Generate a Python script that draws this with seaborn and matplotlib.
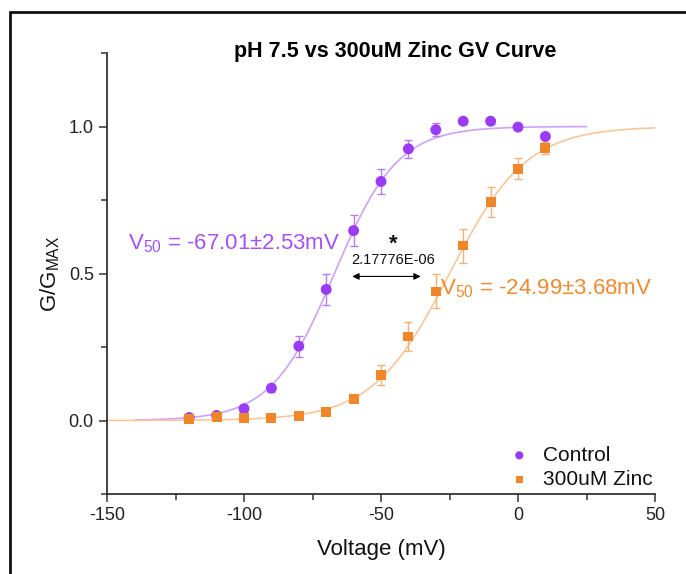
import numpy as np
import pandas as pd
import seaborn as sns
import matplotlib.pyplot as plt
from matplotlib.lines import Line2D
from matplotlib.ticker import MultipleLocator

voltages = [-120, -110, -100, -90, -80, -70, -60, -50, -40, -30, -20, -10, 0, 10]
control = [0.010, 0.017, 0.040, 0.110, 0.253, 0.446, 0.646, 0.813, 0.924, 0.989, 1.018, 1.018, 0.998, 0.966]
control_err = [0.005, 0.006, 0.008, 0.012, 0.036, 0.054, 0.052, 0.044, 0.030, 0.022, 0.008, 0.008, 0.008, 0.008]
zinc = [0.006, 0.011, 0.008, 0.008, 0.014, 0.030, 0.074, 0.155, 0.286, 0.439, 0.595, 0.743, 0.856, 0.926]
zinc_err = [0.004, 0.004, 0.004, 0.004, 0.005, 0.008, 0.010, 0.034, 0.050, 0.058, 0.058, 0.050, 0.036, 0.020]

# Boltzmann fit parameters
v50_control, k_control = -67.01, 11.5
v50_zinc, k_zinc = -24.99, 14.0
fit_range_control = (-140, 25)
fit_range_zinc = (-150, 50)

purple = '#9A3CF5'
orange = '#F0862A'

sns.set_style('ticks')
plt.rcParams['font.family'] = ['Liberation Sans', 'DejaVu Sans']
plt.rcParams['mathtext.fontset'] = 'custom'
plt.rcParams['mathtext.rm'] = 'Liberation Sans'
plt.rcParams['mathtext.it'] = 'Liberation Sans:italic'
plt.rcParams['axes.unicode_minus'] = False
plt.rcParams['text.color'] = '#111111'
plt.rcParams['axes.labelcolor'] = '#111111'
plt.rcParams['xtick.labelcolor'] = '#222222'
plt.rcParams['ytick.labelcolor'] = '#222222'


def boltzmann(v, v50, k):
    return 1.0 / (1.0 + np.exp((v50 - v) / k))


fig = plt.figure(figsize=(6.86, 5.74), dpi=100)
ax = fig.add_axes([107 / 686, 80 / 574, 548 / 686, 441 / 574])

vc = np.linspace(*fit_range_control, 300)
vz = np.linspace(*fit_range_zinc, 300)
fit_df = pd.DataFrame({
    'v': np.concatenate([vc, vz]),
    'g': np.concatenate([boltzmann(vc, v50_control, k_control), boltzmann(vz, v50_zinc, k_zinc)]),
    'grp': ['Control'] * len(vc) + ['Zinc'] * len(vz),
})
sns.lineplot(data=fit_df, x='v', y='g', hue='grp', palette={'Control': '#CDA2FB', 'Zinc': '#F8C69C'},
             lw=1.2, legend=False, ax=ax)

ax.errorbar(voltages, control, yerr=control_err, fmt='none', ecolor='#B57CF8', elinewidth=1, capsize=3, capthick=1)
ax.errorbar(voltages, zinc, yerr=zinc_err, fmt='none', ecolor='#F4B07A', elinewidth=1, capsize=3, capthick=1)

sns.scatterplot(x=voltages, y=control, color=purple, marker='o', s=62, edgecolor='none', label='Control', ax=ax, zorder=3)
sns.scatterplot(x=voltages, y=zinc, color=orange, marker='s', s=50, edgecolor='none', label='300uM Zinc', ax=ax, zorder=3)

ax.set_xlim(-150, 50)
ax.set_ylim(-0.25, 1.25)
ax.xaxis.set_major_locator(MultipleLocator(50))
ax.xaxis.set_minor_locator(MultipleLocator(25))
ax.yaxis.set_major_locator(MultipleLocator(0.5))
ax.yaxis.set_minor_locator(MultipleLocator(0.25))
ax.tick_params(which='major', direction='out', length=6, width=1.1, labelsize=13, color='#333333')
ax.tick_params(which='minor', direction='out', length=4, width=1.1, color='#333333')
sns.despine(ax=ax)
for s in ['left', 'bottom']:
    ax.spines[s].set_linewidth(1.3)
    ax.spines[s].set_color('#333333')

ax.set_xlabel('Voltage (mV)', fontsize=16, labelpad=11)
ax.set_ylabel('G/G$_{\\mathrm{MAX}}$', fontsize=16, labelpad=5)

ax.text(-103.5, 0.60, 'V$_{50}$ = -67.01±2.53mV', color='#A452F6', fontsize=16, ha='center', va='center')
ax.text(10.2, 0.45, 'V$_{50}$ = -24.99±3.68mV', color='#F08A30', fontsize=16, ha='center', va='center')
ax.text(-45.6, 0.60, '*', fontsize=16, fontweight='bold', ha='center', va='center')
ax.text(-45.6, 0.545, '2.17776E-06', fontsize=10.5, ha='center', va='center')
ax.annotate('', xy=(-61.5, 0.49), xytext=(-34.5, 0.49),
            arrowprops=dict(arrowstyle='<|-|>', color='black', lw=0.8, mutation_scale=10))

ax.legend(loc='lower right', bbox_to_anchor=(1.019, -0.017), frameon=False, fontsize=15,
          markerscale=0.75, handletextpad=0.35, handlelength=1.6, labelspacing=0.25, borderaxespad=0.2)

fig.text(395 / 686, 1 - 52 / 574, 'pH 7.5 vs 300uM Zinc GV Curve', fontsize=15.5, fontweight='bold',
         color='black', ha='center', va='center')

# outer frame (left and top edges visible in the reference)
fig.add_artist(Line2D([10 / 686, 10 / 686], [0, 1 - 12 / 574], transform=fig.transFigure, color='#111111', lw=2))
fig.add_artist(Line2D([10 / 686, 1], [1 - 12 / 574, 1 - 12 / 574], transform=fig.transFigure, color='#111111', lw=2))

fig.savefig('out.png', dpi=100)
